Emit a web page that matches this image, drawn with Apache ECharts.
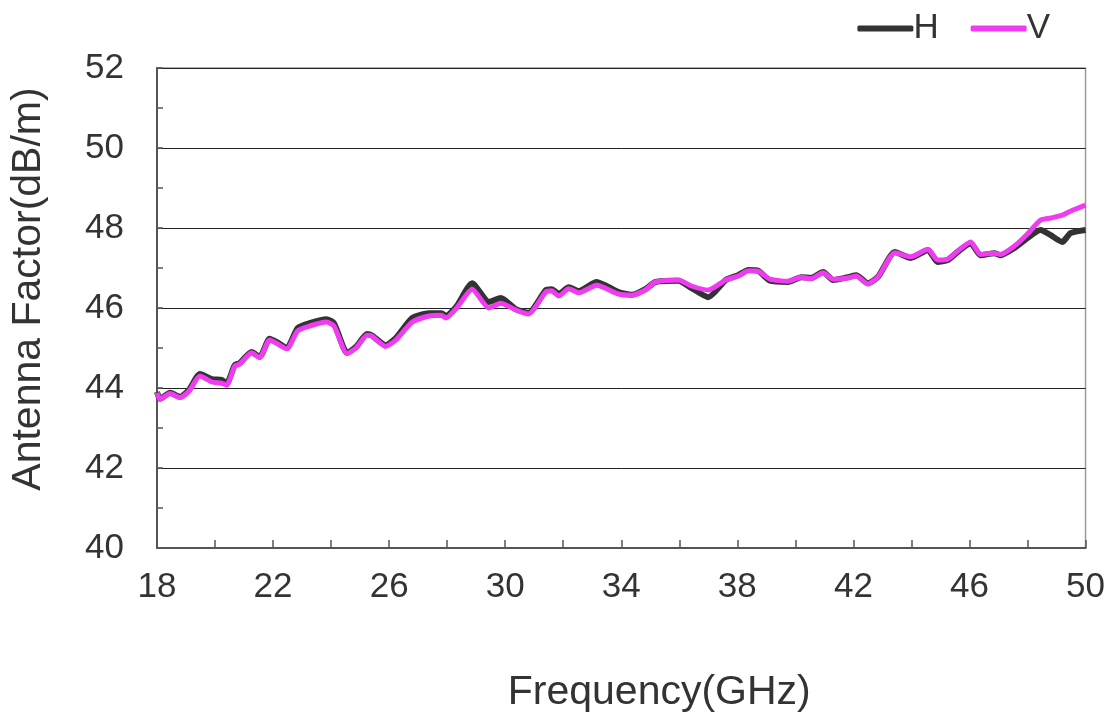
<!DOCTYPE html>
<html>
<head>
<meta charset="utf-8">
<script src="https://cdn.jsdelivr.net/npm/echarts@6/dist/echarts.min.js"></script>
<style>html,body{margin:0;padding:0;background:#fff}#c{width:1108px;height:722px}</style>
</head>
<body>
<div id="c"></div>
<script>
const freq = [18.0,18.1,18.45,18.8,19.1,19.48,19.9,20.23,20.4,20.68,20.85,21.26,21.54,21.88,22.12,22.47,22.85,23.26,23.84,24.1,24.55,24.86,25.24,25.4,25.88,26.23,26.8,27.37,27.8,27.96,28.33,28.86,29.44,29.85,30.37,30.8,31.4,31.6,31.85,32.19,32.54,33.15,33.9,34.36,34.83,35.18,35.97,36.42,37.0,37.6,38.03,38.38,38.72,39.13,39.75,40.2,40.54,40.96,41.3,41.8,42.1,42.5,42.85,43.43,43.98,44.57,44.9,45.25,45.59,46.04,46.38,46.86,47.07,47.55,48.0,48.45,48.8,49.2,49.48,50.0];
const hValues = [43.9,43.73,43.88,43.78,43.95,44.35,44.22,44.2,44.12,44.57,44.62,44.9,44.78,45.23,45.15,45.0,45.5,45.62,45.72,45.62,44.88,45.03,45.35,45.32,45.07,45.25,45.75,45.87,45.87,45.8,46.05,46.62,46.15,46.25,45.97,45.88,46.45,46.47,46.35,46.52,46.42,46.65,46.4,46.33,46.47,46.65,46.68,46.5,46.27,46.7,46.82,46.95,46.93,46.68,46.65,46.77,46.75,46.9,46.7,46.77,46.82,46.62,46.78,47.4,47.25,47.45,47.15,47.2,47.4,47.62,47.32,47.37,47.32,47.5,47.75,47.95,47.82,47.65,47.87,47.95];
const vValues = [43.88,43.72,43.86,43.76,43.92,44.3,44.15,44.12,44.07,44.55,44.6,44.88,44.76,45.2,45.12,44.98,45.43,45.55,45.65,45.55,44.86,45.0,45.32,45.3,45.04,45.2,45.65,45.8,45.82,45.75,46.0,46.47,46.0,46.12,45.95,45.85,46.4,46.43,46.3,46.48,46.38,46.57,46.35,46.32,46.45,46.65,46.7,46.55,46.45,46.7,46.8,46.93,46.92,46.72,46.67,46.77,46.73,46.88,46.72,46.75,46.8,46.6,46.78,47.38,47.28,47.47,47.2,47.22,47.42,47.65,47.34,47.37,47.34,47.55,47.85,48.2,48.25,48.32,48.42,48.57];
const seriesNames = ['H','V'];
const yTicks = {min:40,max:52,step:2};
const xTicks = {min:18,max:50,step:4};

const font = '"Liberation Sans", Arial, sans-serif';
const chart = echarts.init(document.getElementById('c'));
chart.setOption({
  animation:false,
  backgroundColor:'#fff',
  grid:{left:157,right:20,top:68,bottom:174,show:true,borderColor:'#999',borderWidth:1.5,containLabel:false},
  legend:{
    right:53, top:6, itemGap:32, itemWidth:56, itemHeight:6, icon:'roundRect',
    textStyle:{fontSize:35,color:'#333',fontFamily:font,padding:[0,0,0,-5]},
    data:seriesNames
  },
  xAxis:{
    type:'value', min:xTicks.min, max:xTicks.max, interval:xTicks.step,
    name:'Frequency(GHz)', nameLocation:'middle', nameGap:124,
    nameTextStyle:{fontSize:41,color:'#333',fontFamily:font,padding:[0,0,0,76]},
    axisLine:{lineStyle:{color:'#555',width:2}},
    axisTick:{inside:true,length:8,lineStyle:{color:'#555',width:1.5}},
    minorTick:{show:true,splitNumber:2,length:8,lineStyle:{color:'#555',width:1.5}},
    axisLabel:{fontSize:35,color:'#333',fontFamily:font,margin:22},
    splitLine:{show:false}
  },
  yAxis:{
    type:'value', min:yTicks.min, max:yTicks.max, interval:yTicks.step,
    name:'Antenna Factor(dB/m)', nameLocation:'middle', nameGap:108,
    nameTextStyle:{fontSize:41,color:'#333',fontFamily:font,padding:[0,0,0,38]},
    axisLine:{show:true,lineStyle:{color:'#555',width:2}},
    axisTick:{show:true,inside:true,length:6,lineStyle:{color:'#555',width:1.5}},
    minorTick:{show:true,splitNumber:2,length:6,lineStyle:{color:'#555',width:1.5}},
    axisLabel:{fontSize:35,color:'#333',fontFamily:font,margin:33},
    splitLine:{show:true,lineStyle:{color:'#222',width:1}}
  },
  series:[
    {name:seriesNames[0],type:'line',showSymbol:false,smooth:0.2,
     data:freq.map((f,i)=>[f,hValues[i]]),
     lineStyle:{color:'#333',width:6},itemStyle:{color:'#333'}},
    {name:seriesNames[1],type:'line',showSymbol:false,smooth:0.2,
     data:freq.map((f,i)=>[f,vValues[i]]),
     lineStyle:{color:'#f03cf0',width:5},itemStyle:{color:'#f03cf0'}}
  ]
});
</script>
</body>
</html>
